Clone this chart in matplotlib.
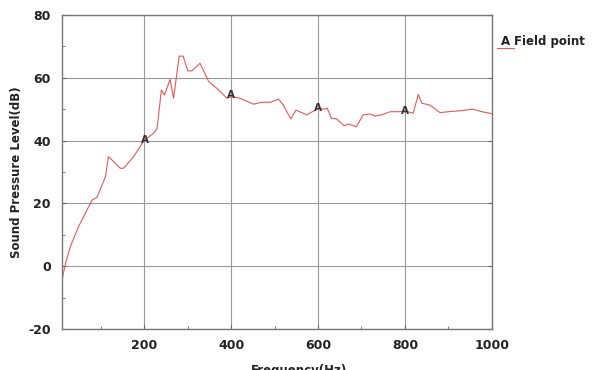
import matplotlib
matplotlib.use('Agg')
import matplotlib.pyplot as plt
from matplotlib.lines import Line2D
from matplotlib.ticker import MultipleLocator

plt.rcParams['axes.unicode_minus'] = False

# frequency response
freq = [10, 18, 29, 48, 79, 91, 110, 117, 129, 144, 152, 175, 200, 221, 229,
        239, 246, 259, 267, 280, 289, 300, 309, 328, 348, 367, 390, 401, 420,
        451, 470, 490, 509, 520, 537, 549, 574, 601, 612, 621, 631, 643, 660,
        670, 688, 704, 720, 731, 747, 766, 789, 800, 819, 831, 839, 858, 881,
        900, 927, 957, 977, 1000]
spl = [-4.4, 0.9, 6.2, 12.6, 21.0, 22.0, 28.5, 34.9, 33.3, 31.2, 31.2, 34.9,
       40.2, 42.3, 43.9, 56.1, 54.5, 59.5, 53.5, 66.9, 66.9, 62.2, 62.2, 64.6,
       58.8, 56.6, 53.5, 54.0, 53.5, 51.6, 52.2, 52.2, 53.2, 51.3, 46.9, 49.7,
       48.2, 50.3, 50.0, 50.3, 47.1, 46.9, 44.7, 45.3, 44.4, 48.2, 48.5, 47.8,
       48.2, 49.2, 49.2, 49.5, 48.7, 54.7, 51.9, 51.3, 48.9, 49.2, 49.5, 50.0,
       49.2, 48.6]
# where the "A" symbols sit on the curve
mark_f = [200, 400, 600, 800]
mark_v = [40.2, 54.5, 50.3, 49.5]

line_col = '#e05a5a'

fig = plt.figure(figsize=(5.98, 3.70), dpi=100, facecolor='white')
ax = fig.add_axes([0.1037, 0.1108, 0.7185, 0.8487])

ax.plot(freq, spl, color=line_col, lw=0.8)
for f, v in zip(mark_f, mark_v):
    ax.text(f, v, 'A', ha='center', va='center', fontsize=7.5,
            fontweight='bold', color='#333333')

ax.set_xlim(10, 1000)
ax.set_ylim(-20, 80)
ax.xaxis.set_major_locator(MultipleLocator(200))
ax.xaxis.set_minor_locator(MultipleLocator(100))
ax.yaxis.set_major_locator(MultipleLocator(20))
ax.yaxis.set_minor_locator(MultipleLocator(10))
ax.grid(True, which='major', color='#999999', lw=0.8)
ax.tick_params(which='both', direction='in', right=True, top=False,
               labelsize=9, color='#666666', length=3)
ax.tick_params(which='minor', right=False, length=2.5)
ax.tick_params(axis='y', pad=8)
ax.tick_params(axis='x', pad=7)
for lab in ax.get_xticklabels() + ax.get_yticklabels():
    lab.set_fontweight('bold')
    lab.set_color('#222222')
for s in ax.spines.values():
    s.set_color('#777777')
    s.set_linewidth(1.0)

ax.set_ylabel('Sound Pressure Level(dB)', fontsize=8.5, fontweight='bold',
              color='#222222', labelpad=4)
# x label sits at the very bottom edge, partly cut like the original
fig.text(0.5, 0.016, 'Frequency(Hz)', ha='center', va='top', fontsize=8.5,
         fontweight='bold', color='#222222')

# legend, drawn by hand
fig.text(0.838, 0.888, 'A', fontsize=8.5, fontweight='bold', color='#222222',
         va='center')
fig.text(0.86, 0.888, 'Field point', fontsize=8.5, fontweight='bold',
         color='#222222', va='center')
fig.add_artist(Line2D([0.831, 0.859], [0.87, 0.87], color=line_col,
                      lw=0.8, transform=fig.transFigure))

fig.savefig('out.png', dpi=100, facecolor='white')
